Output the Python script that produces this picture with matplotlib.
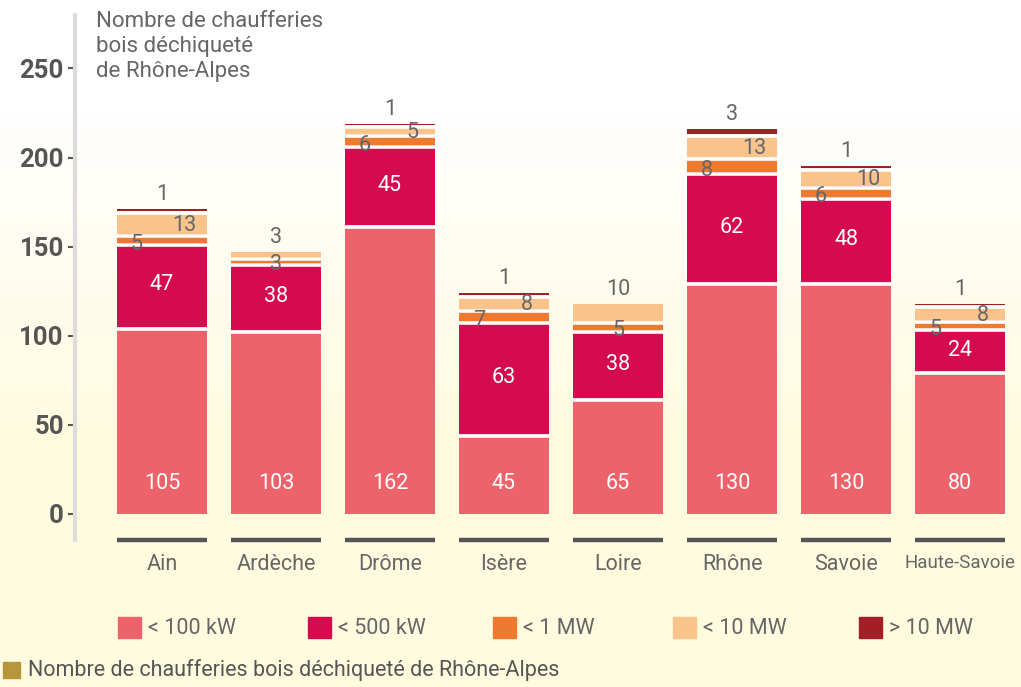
import numpy as np
import matplotlib
matplotlib.use("Agg")
import matplotlib.pyplot as plt
from matplotlib.patches import Rectangle
from matplotlib.colors import to_rgb
import matplotlib.transforms as mtransforms

plt.rcParams['font.family'] = ['Roboto', 'DejaVu Sans']

# données
departements = ['Ain', 'Ardèche', 'Drôme', 'Isère', 'Loire', 'Rhône', 'Savoie', 'Haute-Savoie']
moins_100kw = [105, 103, 162, 45, 65, 130, 130, 80]
moins_500kw = [47, 38, 45, 63, 38, 62, 48, 24]
moins_1mw = [5, 3, 6, 7, 5, 8, 6, 5]
moins_10mw = [13, 3, 5, 8, 10, 13, 10, 8]
plus_10mw = [1, 0, 1, 1, 0, 3, 1, 1]
series_labels = ['< 100 kW', '< 500 kW', '< 1 MW', '< 10 MW', '> 10 MW']
colors = ['#EC636C', '#D50A4F', '#EE7A30', '#F9C38C', '#A31F27']

GRAY = '#666666'
DARK = '#555555'

fig = plt.figure(figsize=(10.21, 6.87), dpi=100)

# fond en dégradé blanc -> crème
bg = fig.add_axes([0, 0, 1, 1], zorder=-10)
h = 687
t = np.clip((np.arange(h) - 110) / 330.0, 0, 1)
top = np.array(to_rgb('#FFFFFF'))
bot = np.array(to_rgb('#FFFBDF'))
grad = top[None, :] * (1 - t[:, None]) + bot[None, :] * t[:, None]
bg.imshow(grad[:, None, :], aspect='auto', extent=[0, 1, 1, 0])
bg.axis('off')

ax = fig.add_axes([75 / 1021, 1 - 540 / 687, 1 - 75 / 1021, 525 / 687])
ax.patch.set_alpha(0)

x = np.arange(len(departements))
width = 0.79
series = [moins_100kw, moins_500kw, moins_1mw, moins_10mw, plus_10mw]
bottom = np.zeros(len(x))
bottoms = []
for vals, c in zip(series, colors):
    vals = np.array(vals, dtype=float)
    ax.bar(x, vals, bottom=bottom, width=width, color=c, linewidth=0, zorder=2)
    bottoms.append(bottom.copy())
    bottom = bottom + vals
totals = bottom

# séparations blanches entre segments (sous chaque limite)
gap_tr = mtransforms.offset_copy(ax.transData, fig=fig, x=0, y=-1.3, units='points')
for b in bottoms[1:]:
    for xi, yi, tot in zip(x, b, totals):
        if yi < tot:
            ax.plot([xi - width / 2, xi + width / 2], [yi, yi], color='white',
                    lw=2.6, solid_capstyle='butt', transform=gap_tr, zorder=3)

ax.set_xlim(-0.763, 7.535)
ax.set_ylim(-14.6, 280)

# étiquettes
fs = 15.5
for i in range(len(x)):
    ax.text(x[i], 17, str(moins_100kw[i]), color='white', ha='center', va='center',
            fontsize=fs, zorder=4)
    ax.text(x[i], bottoms[1][i] + moins_500kw[i] / 2, str(moins_500kw[i]), color='white',
            ha='center', va='center', fontsize=fs, zorder=4)
    mid1 = bottoms[2][i] + moins_1mw[i] / 2
    mid10 = bottoms[3][i] + moins_10mw[i] / 2
    if plus_10mw[i] > 0:
        ax.annotate(str(moins_1mw[i]), (x[i] - 0.22, mid1), xytext=(0, -4),
                    textcoords='offset points', ha='center', va='center',
                    color=GRAY, fontsize=fs, zorder=5)
        ax.annotate(str(moins_10mw[i]), (x[i] + 0.2, mid10), xytext=(0, -2),
                    textcoords='offset points', ha='center', va='center',
                    color=GRAY, fontsize=fs, zorder=5)
        ax.annotate(str(plus_10mw[i]), (x[i], totals[i]), xytext=(0, 3),
                    textcoords='offset points', ha='center', va='bottom',
                    color=GRAY, fontsize=fs, zorder=5)
    else:
        ax.annotate(str(moins_1mw[i]), (x[i], mid1), xytext=(0, -3),
                    textcoords='offset points', ha='center', va='center',
                    color=GRAY, fontsize=fs, zorder=5)
        ax.annotate(str(moins_10mw[i]), (x[i], totals[i]), xytext=(0, 3),
                    textcoords='offset points', ha='center', va='bottom',
                    color=GRAY, fontsize=fs, zorder=5)

# traits sous les barres
for xi in x:
    ax.plot([xi - width / 2, xi + width / 2], [-14.6, -14.6], color=DARK, lw=3.2,
            solid_capstyle='butt', clip_on=False, zorder=3)

# axes
for s in ['top', 'right', 'bottom']:
    ax.spines[s].set_visible(False)
ax.spines['left'].set_color('#DCDCDC')
ax.spines['left'].set_linewidth(3)
ax.set_yticks([0, 50, 100, 150, 200, 250])
ax.tick_params(axis='y', length=5, width=1.5, color=DARK, pad=3,
               labelsize=18.5, labelcolor=DARK)
for lab in ax.get_yticklabels():
    lab.set_fontweight('bold')
ax.set_xticks(x)
ax.set_xticklabels(departements)
ax.tick_params(axis='x', length=0, pad=10, labelsize=fs, labelcolor=GRAY)
ax.get_xticklabels()[-1].set_fontsize(13.5)

fig.text(96 / 1021, 1 - 11 / 687, 'Nombre de chaufferies\nbois déchiqueté\nde Rhône-Alpes',
         ha='left', va='top', fontsize=16, color=GRAY, linespacing=1.25)

# légende
leg_x = [118, 308, 493, 673, 859]
for lx, c, lab in zip(leg_x, colors, series_labels):
    fig.patches.append(Rectangle((lx / 1021, 1 - 638 / 687), 23 / 1021, 21 / 687,
                                 transform=fig.transFigure, color=c))
    fig.text((lx + 30) / 1021, 1 - 628 / 687, lab, ha='left', va='center',
             fontsize=fs, color=GRAY)

fig.patches.append(Rectangle((3 / 1021, 1 - 678 / 687), 17 / 1021, 16 / 687,
                             transform=fig.transFigure, color='#B8963E'))
fig.text(28 / 1021, 1 - 670 / 687, 'Nombre de chaufferies bois déchiqueté de Rhône-Alpes',
         ha='left', va='center', fontsize=15.5, color=DARK)

fig.savefig('out.png', dpi=100)
